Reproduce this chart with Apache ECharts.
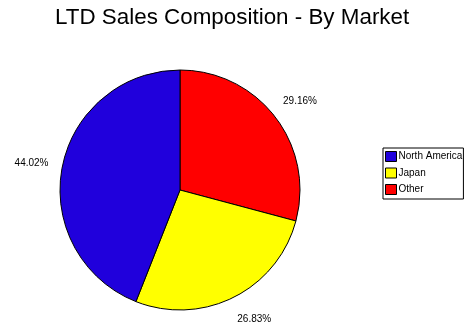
<!DOCTYPE html>
<html>
<head>
<meta charset="utf-8">
<script src="https://cdn.jsdelivr.net/npm/echarts@6/dist/echarts.min.js"></script>
<style>html,body{margin:0;padding:0;background:#fff;}#c{width:475px;height:334px;}</style>
</head>
<body>
<div id="c"></div>
<script>
var titleText = 'LTD Sales Composition - By Market';
var categories = ['Other', 'Japan', 'North America'];
var values = [29.16, 26.83, 44.02];
var colors = ['#FF0000', '#FFFF00', '#2000DC'];
var legendOrder = ['North America', 'Japan', 'Other'];
var labelPads = [[10, 0, 0, 10], [0, 0, 6, 18], [3, 12, 0, 0]];

function pieData(styled) {
  return categories.map(function (c, i) {
    var d = {name: c, value: values[i]};
    if (styled) {
      d.itemStyle = {color: colors[i]};
    } else {
      d.itemStyle = {color: 'rgba(0,0,0,0)', borderWidth: 0};
      d.label = {padding: labelPads[i]};
    }
    return d;
  });
}

var chart = echarts.init(document.getElementById('c'), null, {renderer: 'canvas'});
chart.setOption({
  animation: false,
  backgroundColor: '#fff',
  title: {
    text: titleText,
    left: 50, top: 2,
    textStyle: {fontFamily: 'Liberation Sans, Arial', fontSize: 22.4, fontWeight: 'normal', color: '#000'}
  },
  legend: {
    data: legendOrder,
    orient: 'vertical',
    left: 383, top: 148,
    borderColor: '#000', borderWidth: 1,
    padding: [3, 1, 4, 2],
    itemWidth: 11, itemHeight: 10, itemGap: 5.5,
    icon: 'rect',
    textStyle: {fontFamily: 'Liberation Sans, Arial', fontSize: 10, color: '#000', padding: [0,0,0,-3]},
    itemStyle: {borderColor: '#000', borderWidth: 1}
  },
  series: [{
    type: 'pie',
    center: [180, 190],
    radius: 120,
    startAngle: 90,
    clockwise: true,
    data: pieData(true),
    itemStyle: {borderColor: '#000', borderWidth: 1},
    label: {show: false},
    labelLine: {show: false},
    emphasis: {disabled: true}
  }, {
    type: 'pie',
    center: [180, 190],
    radius: [0, 284],
    startAngle: 90,
    clockwise: true,
    silent: true,
    data: pieData(false),
    label: {
      show: true, position: 'inside',
      formatter: function (p) { return p.value.toFixed(2) + '%'; },
      fontFamily: 'Liberation Sans, Arial', fontSize: 10, color: '#000'
    },
    labelLine: {show: false},
    emphasis: {disabled: true}
  }]
});
</script>
</body>
</html>
